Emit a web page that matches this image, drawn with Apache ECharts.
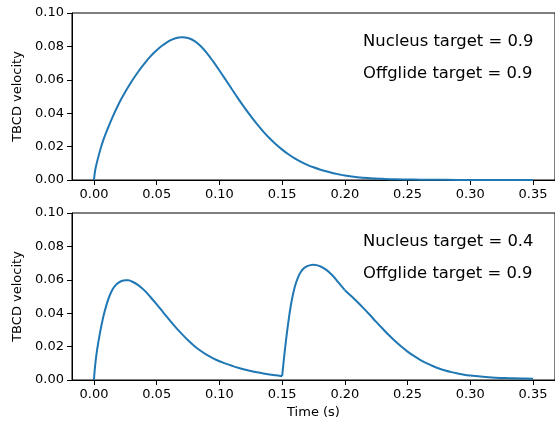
<!DOCTYPE html>
<html>
<head>
<meta charset="utf-8">
<script src="https://cdn.jsdelivr.net/npm/echarts@6/dist/echarts.min.js"></script>
<style>
html, body { margin: 0; padding: 0; background: #fff; }
#chart { width: 555px; height: 423px; }
</style>
</head>
<body>
<div id="chart"></div>
<script>
// 上图: nucleus 0.9 / offglide 0.9
var topTime = [0, 0.001, 0.0025, 0.005, 0.0075, 0.01, 0.015, 0.02, 0.025, 0.03, 0.035, 0.04, 0.045,
	0.05, 0.055, 0.06, 0.065, 0.07, 0.075, 0.08, 0.085, 0.09, 0.095, 0.10, 0.105, 0.11, 0.115,
	0.12, 0.125, 0.13, 0.135, 0.14, 0.145, 0.15, 0.155, 0.16, 0.165, 0.17, 0.175, 0.18, 0.185,
	0.19, 0.195, 0.20, 0.21, 0.22, 0.23, 0.24, 0.25, 0.26, 0.28, 0.30, 0.35];
var topVel = [0, 0.006, 0.011, 0.018, 0.024, 0.029, 0.038, 0.046, 0.0528, 0.0590, 0.0645, 0.0695, 0.0740,
	0.0777, 0.0808, 0.0833, 0.0849, 0.0855, 0.0850, 0.0833, 0.0802, 0.0760, 0.0710, 0.0656, 0.0600, 0.0543, 0.0487,
	0.0433, 0.0382, 0.0334, 0.0290, 0.0250, 0.0214, 0.0182, 0.0154, 0.0130, 0.0109, 0.0091, 0.0076, 0.0063, 0.0052,
	0.0042, 0.0034, 0.0027, 0.0017, 0.0011, 0.0007, 0.0004, 0.0003, 0.0002, 0.0001, 0.00004, 0];

// 下图: nucleus 0.4 / offglide 0.9
var botTime = [0, 0.001, 0.0025, 0.005, 0.0075, 0.01, 0.0125, 0.015, 0.0175, 0.02, 0.0225, 0.025, 0.0275,
	0.03, 0.035, 0.04, 0.045, 0.05, 0.055, 0.06, 0.065, 0.07, 0.075, 0.08, 0.085, 0.09, 0.095,
	0.10, 0.105, 0.11, 0.115, 0.12, 0.125, 0.13, 0.135, 0.14, 0.145, 0.15,
	0.1525, 0.155, 0.1575, 0.16, 0.1625, 0.165, 0.1675, 0.17, 0.1725, 0.175, 0.1775, 0.18, 0.185,
	0.19, 0.195, 0.20, 0.205, 0.21, 0.215, 0.22, 0.225, 0.23, 0.235, 0.24, 0.245, 0.25, 0.255,
	0.26, 0.265, 0.27, 0.275, 0.28, 0.285, 0.29, 0.295, 0.30, 0.31, 0.32, 0.33, 0.34, 0.35];
var botVel = [0, 0.009, 0.018, 0.029, 0.038, 0.045, 0.0505, 0.0545, 0.057, 0.0585, 0.0594, 0.0598, 0.0597,
	0.0591, 0.0570, 0.0538, 0.0497, 0.0453, 0.0407, 0.0361, 0.0317, 0.0276, 0.0238, 0.0204, 0.0175, 0.0150, 0.0129,
	0.0112, 0.0098, 0.0085, 0.0073, 0.0063, 0.0054, 0.0046, 0.0039, 0.0033, 0.0028, 0.0023,
	0.020, 0.035, 0.047, 0.0555, 0.0612, 0.0648, 0.0670, 0.0682, 0.0688, 0.0690, 0.0688, 0.0682, 0.0661,
	0.0627, 0.0583, 0.0538, 0.0503, 0.0467, 0.0429, 0.0389, 0.0348, 0.0308, 0.0269, 0.0233, 0.0200, 0.0170, 0.0144,
	0.0121, 0.0101, 0.0084, 0.0069, 0.0057, 0.0047, 0.0039, 0.0032, 0.0027, 0.0019, 0.0014, 0.0011, 0.0009, 0.0007];
// 下图曲线的折点(分段平滑)
var botBreaks = [0, 0.15, 0.20, 0.35];

var xTicks = [0, 0.05, 0.10, 0.15, 0.20, 0.25, 0.30, 0.35];
var topNotes = ['Nucleus target = 0.9', 'Offglide target = 0.9'];
var botNotes = ['Nucleus target = 0.4', 'Offglide target = 0.9'];

var FONT = 'DejaVu Sans';
var LINE = '#1f77b4';

function toPairs(t, v, from, to) {
	var res = [];
	for (var i = 0; i < t.length; i++) {
		if (t[i] >= from && t[i] <= to) {
			res.push([t[i], v[i]]);
		}
	}
	return res;
}

function makeXAxis(idx, name) {
	return {
		type: 'value',
		gridIndex: idx,
		min: -0.0175,
		max: 0.3675,
		name: name,
		nameLocation: 'middle',
		nameGap: 26,
		nameTextStyle: { fontFamily: FONT, fontSize: 13, color: '#000' },
		axisLine: { onZero: false, lineStyle: { color: '#000', width: 1 } },
		axisTick: { length: 5, customValues: xTicks, lineStyle: { color: '#000' } },
		axisLabel: {
			customValues: xTicks,
			margin: 8,
			fontFamily: FONT, fontSize: 13, color: '#000',
			formatter: function (v) { return v.toFixed(2); }
		},
		splitLine: { show: false }
	};
}

function makeYAxis(idx) {
	return {
		type: 'value',
		gridIndex: idx,
		min: 0,
		max: 0.1,
		interval: 0.02,
		name: 'TBCD velocity',
		nameLocation: 'middle',
		nameGap: 46,
		nameTextStyle: { fontFamily: FONT, fontSize: 13, color: '#000' },
		axisLine: { show: true, onZero: false, lineStyle: { color: '#000', width: 1 } },
		axisTick: { show: true, length: 5, lineStyle: { color: '#000' } },
		axisLabel: {
			margin: 8,
			fontFamily: FONT, fontSize: 13, color: '#000',
			formatter: function (v) { return v.toFixed(2); }
		},
		splitLine: { show: false }
	};
}

function note(text, x, y) {
	return {
		type: 'text', x: x, y: y,
		style: { text: text, font: '16.4px "' + FONT + '"', fill: '#000', verticalAlign: 'middle' }
	};
}

function curve(idx, data) {
	return {
		type: 'line', xAxisIndex: idx, yAxisIndex: idx,
		data: data,
		showSymbol: false, smooth: 0.4,
		lineStyle: { color: LINE, width: 2 }
	};
}

var series = [curve(0, toPairs(topTime, topVel, 0, 1))];
for (var i = 0; i < botBreaks.length - 1; i++) {
	series.push(curve(1, toPairs(botTime, botVel, botBreaks[i], botBreaks[i + 1])));
}

var chart = echarts.init(document.getElementById('chart'), null, { renderer: 'canvas' });
var option = {
	animation: false,
	backgroundColor: '#fff',
	grid: [
		{ left: 72, top: 13, width: 493, height: 167, show: true, borderColor: '#000', borderWidth: 1 },
		{ left: 72, top: 213, width: 493, height: 167, show: true, borderColor: '#000', borderWidth: 1 }
	],
	xAxis: [makeXAxis(0, ''), makeXAxis(1, 'Time (s)')],
	yAxis: [makeYAxis(0), makeYAxis(1)],
	graphic: [
		note(topNotes[0], 363, 42),
		note(topNotes[1], 363, 74),
		note(botNotes[0], 363, 242),
		note(botNotes[1], 363, 274)
	],
	series: series
};
chart.setOption(option);
</script>
</body>
</html>
